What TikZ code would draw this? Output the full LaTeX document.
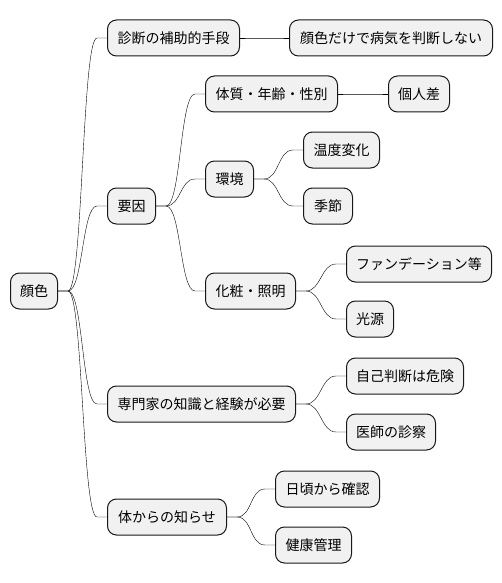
\documentclass[tikz,border=0pt]{standalone}
\usepackage{fontspec}
\newfontfamily\cjk{Noto Sans CJK JP}
\usetikzlibrary{calc}
\definecolor{boxfill}{HTML}{F1F1F1}
\definecolor{boxline}{HTML}{181818}
\tikzset{
  box/.style={draw=boxline, fill=boxfill, line width=1pt, rounded corners=9pt,
    minimum height=36pt, inner xsep=0pt, inner ysep=0pt, anchor=west,
    font=\cjk\fontsize{14}{16}\selectfont, text=black},
  branch/.style={draw=boxline, line width=0.8pt,
    to path={-- ($(\tikztostart)+(10,0)$)
      .. controls ($(\tikztostart)+(25,0)$) and ($(\tikztotarget)+(-25,0)$)
      .. ($(\tikztotarget)+(-10,0)$) -- (\tikztotarget)}}
}
\begin{document}
\begin{tikzpicture}[x=1pt,y=-1pt]
\useasboundingbox (0,0) rectangle (502,583);
\node[box,minimum width=47] (r) at (10,291) {顔色};
\node[box,minimum width=132] (a) at (107,38) {診断の補助的手段};
\node[box,minimum width=48] (b) at (107,206) {要因};
\node[box,minimum width=188] (c) at (107,404) {専門家の知識と経験が必要};
\node[box,minimum width=119] (d) at (107,517) {体からの知らせ};
\node[box,minimum width=203] (a1) at (289,38) {顔色だけで病気を判断しない};
\node[box,minimum width=132] (b1) at (205,94) {体質・年齢・性別};
\node[box,minimum width=61] (b1a) at (388,94) {個人差};
\node[box,minimum width=48] (b2) at (205,179) {環境};
\node[box,minimum width=76] (b2a) at (303,150) {温度変化};
\node[box,minimum width=49] (b2b) at (303,206) {季節};
\node[box,minimum width=90] (b3) at (205,291) {化粧・照明};
\node[box,minimum width=145] (b3a) at (346,264) {ファンデーション等};
\node[box,minimum width=47] (b3b) at (346,319) {光源};
\node[box,minimum width=117] (c1) at (346,376) {自己判断は危険};
\node[box,minimum width=89] (c2) at (346,432) {医師の診察};
\node[box,minimum width=104] (d1) at (275,489) {日頃から確認};
\node[box,minimum width=76] (d2) at (275,545) {健康管理};
\foreach \p/\q in {r/a, r/b, r/c, r/d, a/a1, b/b1, b/b2, b/b3, b1/b1a,
    b2/b2a, b2/b2b, b3/b3a, b3/b3b, c/c1, c/c2, d/d1, d/d2}
  \draw (\p.east) to[branch] (\q.west);
\end{tikzpicture}
\end{document}
